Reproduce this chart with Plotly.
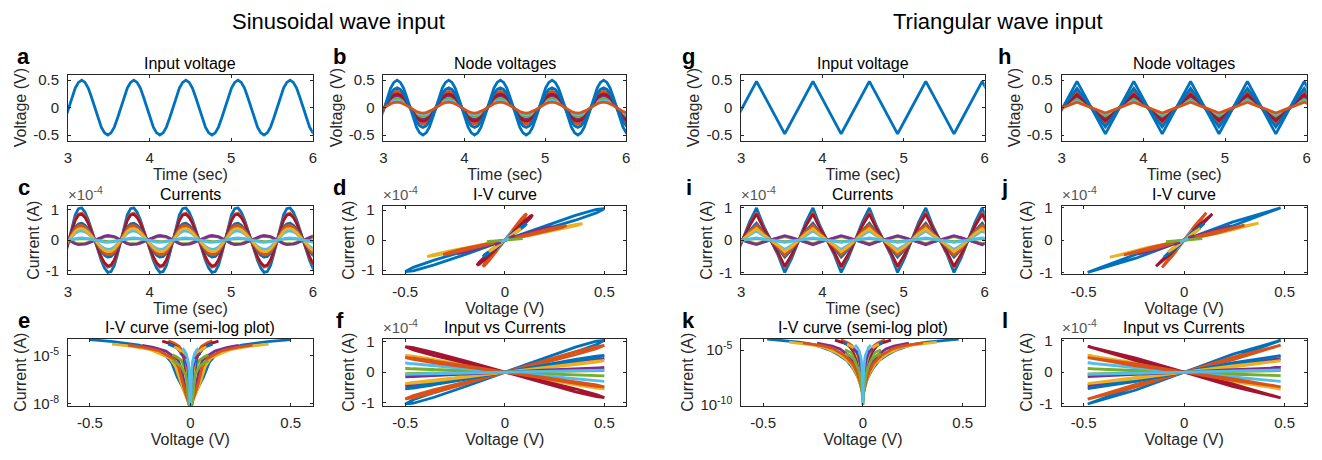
import plotly.graph_objects as go
from plotly.subplots import make_subplots

W, H = 1322, 460
FONT = "Liberation Sans, Arial, sans-serif"
INK = "#262626"
COLORS = ["#0072BD", "#D95319", "#EDB120", "#7E2F8E", "#77AC30", "#4DBEEE", "#A2142F"]

# ---------------- data ----------------
# one period of each input waveform, normalised (sampled 16 / 8 times per period)
SINE_SHAPE = [0.0, 0.38, 0.71, 0.92, 1.0, 0.92, 0.71, 0.38,
              0.0, -0.38, -0.71, -0.92, -1.0, -0.92, -0.71, -0.38]
# opening of the (pinched) hysteresis loops over the same period
SINE_LOOP = [0.0, 0.71, 1.0, 0.71, 0.0, -0.71, -1.0, -0.71,
             0.0, 0.71, 1.0, 0.71, 0.0, -0.71, -1.0, -0.71]
TRI_SHAPE = [0.0, 0.5, 1.0, 0.5, 0.0, -0.5, -1.0, -0.5]
TRI_LOOP = [0.0, 1.0, 0.0, -1.0, 0.0, 1.0, 0.0, -1.0]

SINE_T0, SINE_PERIOD, SINE_IN_AMP = 3.01, 0.638, 0.50
TRI_T0, TRI_PERIOD, TRI_IN_AMP = 3.015, 0.695, 0.48

# node voltage amplitudes (V)
NODE_SINE = [0.50, 0.30, 0.20, 0.22, 0.16, 0.13, 0.25, 0.36, 0.10]
NODE_TRI = [0.48, 0.29, 0.19, 0.21, 0.15, 0.12, 0.24, 0.35, 0.10]

# branch currents (x1e-4 A, sign relative to the input in the input-vs-current plot),
# sign seen in the current-vs-time plot, voltage drops (V) and loop openings (x1e-4 A)
CUR_SINE = [1.05, 0.88, -0.55, 0.45, -0.12, -0.30, -0.84, 0.55, -0.48, 0.38, 0.15, 0.05, 0.07]
TSIGN_SINE = [1, 1, 1, 1, -1, 1, 1, 1, 1, 1, -1, 1, 1]
VDROP_SINE = [0.50, 0.11, 0.39, 0.24, 0.09, 0.04, 0.14, 0.11, 0.31, 0.08, 0.05, 0.09, 0.02]
LOOP_SINE = [0.08, 0.05, 0.03, 0.03, 0.01, 0.01, 0.05, 0.03, 0.03, 0.02, 0.01, 0.0, 0.0]

CUR_TRI = [1.00, 0.85, -0.53, 0.43, -0.11, -0.29, -0.81, 0.52, -0.46, 0.36, 0.14, 0.05, 0.07]
TSIGN_TRI = [1, 1, 1, 1, -1, 1, 1, 1, 1, 1, -1, 1, 1]
VDROP_TRI = [0.48, 0.11, 0.37, 0.23, 0.09, 0.04, 0.14, 0.10, 0.30, 0.08, 0.05, 0.09, 0.02]
LOOP_TRI = [0.06, 0.04, 0.03, 0.03, 0.01, 0.01, 0.04, 0.03, 0.03, 0.02, 0.01, 0.0, 0.0]

# semi-log funnel profile: fraction of peak voltage -> fraction of peak current
LOG_V_SINE = [1.0, 0.77, 0.51, 0.38, 0.26, 0.19, 0.13, 0.09, 0.05, 0.02, 0.005]
LOG_I_SINE = [1.0, 0.75, 0.45, 0.25, 0.13, 0.04, 0.0045, 0.0015, 0.00045, 0.0002, 0.0001]
LOG_V_TRI = [1.0, 0.67, 0.5, 0.33, 0.25, 0.167, 0.1, 0.05, 0.02, 0.005]
LOG_I_TRI = [1.0, 0.54, 0.3, 0.087, 0.035, 0.011, 0.002, 0.0003, 0.00005, 0.00002]

TIME_TICKS = [3, 4, 5, 6]
VOLT_TICKS = [-0.5, 0, 0.5]
CUR_TICKS = [-1, 0, 1]

# ---------------- layout geometry (pixels) ----------------
COLS = [(64.3, 310.7), (381.7, 626.0), (741.7, 986.7), (1064.0, 1310.7)]
ROWS = [(70.0, 138.0), (206.0, 276.0), (343.0, 412.0)]
LETTER_X = [20, 338, 689, 1007]


def periodic(shape, loop, t0, period, t_lo=2.9, t_hi=6.1):
    n = len(shape)
    dt = period / n
    k0 = int((t_lo - t0) // dt)
    k1 = int((t_hi - t0) // dt) + 1
    t, s, q = [], [], []
    for k in range(k0, k1 + 1):
        t.append(t0 + k * dt)
        s.append(shape[k % n])
        q.append(loop[k % n])
    return t, s, q


fig = make_subplots(rows=3, cols=4)


def add(r, c, x, y, color, width=2.8):
    fig.add_trace(go.Scatter(x=x, y=y, mode="lines", showlegend=False, hoverinfo="skip",
                             line=dict(color=color, width=width)), row=r, col=c)


def block(col0, shape, loop, t0, period, in_amp, nodes, cur, tsign, vdrop, lp, logv, logi):
    t, s, q = periodic(shape, loop, t0, period)
    # input voltage
    add(1, col0, t, [in_amp * v for v in s], COLORS[0])
    # node voltages
    for i, a in enumerate(nodes):
        add(1, col0 + 1, t, [a * v for v in s], COLORS[i % 7])
    # currents vs time
    for i, a in enumerate(cur):
        sg = tsign[i]
        add(2, col0, t, [sg * (abs(a) * v + lp[i] * w) for v, w in zip(s, q)], COLORS[i % 7])
    # I-V curves
    for i, a in enumerate(cur):
        add(2, col0 + 1, [vdrop[i] * v for v in s],
            [abs(a) * v + lp[i] * w for v, w in zip(s, q)], COLORS[i % 7])
    # semi-log I-V
    for i, a in enumerate(cur):
        xs = [-vdrop[i] * u for u in logv] + [vdrop[i] * u for u in logv[::-1]]
        ys = [abs(a) * 1e-4 * u for u in logi] + [abs(a) * 1e-4 * u for u in logi[::-1]]
        add(3, col0, xs, ys, COLORS[i % 7])
    # input vs currents
    for i, a in enumerate(cur):
        sg = 1 if a >= 0 else -1
        add(3, col0 + 1, [in_amp * v for v in s],
            [a * v + sg * lp[i] * w for v, w in zip(s, q)], COLORS[i % 7])


block(1, SINE_SHAPE, SINE_LOOP, SINE_T0, SINE_PERIOD, SINE_IN_AMP,
      NODE_SINE, CUR_SINE, TSIGN_SINE, VDROP_SINE, LOOP_SINE, LOG_V_SINE, LOG_I_SINE)
block(3, TRI_SHAPE, TRI_LOOP, TRI_T0, TRI_PERIOD, TRI_IN_AMP,
      NODE_TRI, CUR_TRI, TSIGN_TRI, VDROP_TRI, LOOP_TRI, LOG_V_TRI, LOG_I_TRI)

base = dict(showline=True, linecolor=INK, linewidth=0.8, mirror="ticks", ticks="inside",
            ticklen=3, tickwidth=0.8, tickcolor=INK, showgrid=False, zeroline=False,
            tickfont=dict(family=FONT, size=15, color=INK))
title_font = dict(family=FONT, size=16, color=INK)

panel = {
    (1, 1): ("a", "Input voltage", "time", "volt", False),
    (1, 2): ("b", "Node voltages", "time", "volt", False),
    (1, 3): ("g", "Input voltage", "time", "volt", False),
    (1, 4): ("h", "Node voltages", "time", "volt", False),
    (2, 1): ("c", "Currents", "time", "cur", True),
    (2, 2): ("d", "I-V curve", "v", "cur", True),
    (2, 3): ("i", "Currents", "time", "cur", True),
    (2, 4): ("j", "I-V curve", "v", "cur", True),
    (3, 1): ("e", "I-V curve (semi-log plot)", "v", "log", False),
    (3, 2): ("f", "Input vs Currents", "v", "cur", True),
    (3, 3): ("k", "I-V curve (semi-log plot)", "v", "log", False),
    (3, 4): ("l", "Input vs Currents", "v", "cur", True),
}
cur_range = {(2, 1): 1.1, (2, 2): 1.13, (3, 2): 1.1, (2, 3): 1.05, (2, 4): 1.05, (3, 4): 1.05}
log_range = {(3, 1): ([-8.1, -3.93], [1e-8, 1e-5], ["10<sup>-8</sup>", "10<sup>-5</sup>"]),
             (3, 3): ([-10.05, -3.97], [1e-10, 1e-5], ["10<sup>-10</sup>", "10<sup>-5</sup>"])}

annotations = []
for (r, c), (letter, title, xk, yk, expo) in panel.items():
    n = (r - 1) * 4 + c
    x0, x1 = COLS[c - 1]
    y0, y1 = ROWS[r - 1]
    xa = dict(base, domain=[x0 / W, x1 / W], ticklabelstandoff=4)
    ya = dict(base, domain=[1 - y1 / H, 1 - y0 / H], ticklabelstandoff=5)
    if xk == "time":
        xa.update(range=[3, 6], tickvals=TIME_TICKS, ticktext=[str(v) for v in TIME_TICKS],
                  title=dict(text="Time (sec)", font=title_font, standoff=0))
    else:
        xa.update(range=[-0.61, 0.61], tickvals=VOLT_TICKS, ticktext=["-0.5", "0", "0.5"],
                  title=dict(text="Voltage (V)", font=title_font, standoff=0))
    if yk == "volt":
        ya.update(range=[-0.6, 0.6], tickvals=VOLT_TICKS, ticktext=["-0.5", "0", "0.5"],
                  title=dict(text="Voltage (V)", font=title_font, standoff=2))
    elif yk == "cur":
        rr = cur_range[(r, c)]
        ya.update(range=[-rr, rr], tickvals=CUR_TICKS, ticktext=["-1", "0", "1"],
                  title=dict(text="Current (A)", font=title_font, standoff=2))
    else:
        rng, tv, tt = log_range[(r, c)]
        ya.update(type="log", range=rng, tickvals=tv, ticktext=tt,
                  title=dict(text="Current (A)", font=title_font, standoff=2))
    fig.layout["xaxis%d" % n].update(xa)
    fig.layout["yaxis%d" % n].update(ya)

    annotations.append(dict(text=title, x=(x0 + x1) / 2 / W, y=1 - (y0 - 12) / H,
                            xref="paper", yref="paper", showarrow=False,
                            xanchor="center", yanchor="middle",
                            font=dict(family=FONT, size=16, color="#000000")))
    annotations.append(dict(text="<b>%s</b>" % letter, x=LETTER_X[c - 1] / W, y=1 - (y0 - 19) / H,
                            xref="paper", yref="paper", showarrow=False,
                            xanchor="center", yanchor="middle",
                            font=dict(family=FONT, size=22, color="#000000")))
    if expo:
        annotations.append(dict(text="\u00d710<sup>-4</sup>", x=(x0 - 2) / W, y=1 - (y0 - 1) / H,
                                xref="paper", yref="paper", showarrow=False,
                                xanchor="left", yanchor="bottom",
                                font=dict(family=FONT, size=15, color="#555555")))

annotations.append(dict(text="Sinusoidal wave input", x=337 / W, y=1 - 15 / H, xref="paper",
                        yref="paper", showarrow=False, xanchor="center", yanchor="middle",
                        font=dict(family=FONT, size=22, color="#000000")))
annotations.append(dict(text="Triangular wave input", x=1000 / W, y=1 - 15 / H, xref="paper",
                        yref="paper", showarrow=False, xanchor="center", yanchor="middle",
                        font=dict(family=FONT, size=22, color="#000000")))

fig.update_layout(width=W, height=H, margin=dict(l=0, r=0, t=0, b=0),
                  paper_bgcolor="white", plot_bgcolor="white",
                  annotations=annotations, font=dict(family=FONT, color=INK))
fig.write_html("out.html", config={"displayModeBar": False},
               post_script="document.body.style.margin='0';")
